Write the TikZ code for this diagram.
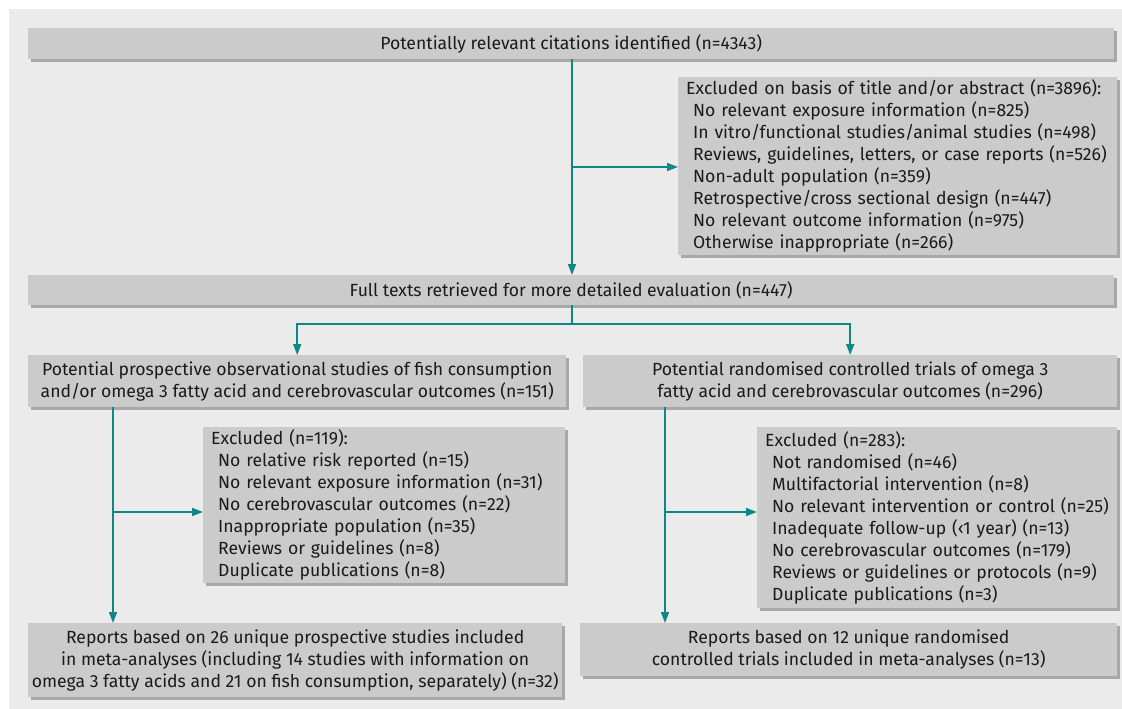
\documentclass[tikz,border=0pt]{standalone}
\usepackage{fontspec}
\setmainfont{Fira Sans}
\usetikzlibrary{arrows.meta,shadows}
\definecolor{bgc}{HTML}{EBEBEB}
\definecolor{boxc}{HTML}{CBCBCB}
\definecolor{shc}{HTML}{A8A8A8}
\definecolor{teal2}{RGB}{16,134,134}
\definecolor{txt}{HTML}{1A1A1A}
\tikzset{
  box/.style={fill=boxc, anchor=north west, inner sep=0pt, text=txt,
    general shadow={fill=shc, shadow xshift=3pt, shadow yshift=-3pt},
    font=\fontsize{17.6}{22}\selectfont},
  cbox/.style={box, align=center},
  lbox/.style={box, align=left},
  conn/.style={draw=teal2, line width=1.8pt},
  arr/.style={conn, -{Triangle[length=11pt,width=8pt]}}
}
\begin{document}
\begin{tikzpicture}[x=1pt,y=-1pt]
\useasboundingbox (0,0) rectangle (1122,709);
\fill[bgc] (9,9) rectangle (1122,709);

\node[cbox, minimum width=1086pt, minimum height=31pt] (top) at (28,28)
  {Potentially relevant citations identified (n=4343)};

\node[lbox, minimum width=439pt, minimum height=178pt, text width=423pt] (ex1) at (678,77)
  {Excluded on basis of title and/or abstract (n=3896):\\
   \hspace*{7pt}No relevant exposure information (n=825)\\
   \hspace*{7pt}In vitro/functional studies/animal studies (n=498)\\
   \hspace*{7pt}Reviews, guidelines, letters, or case reports (n=526)\\
   \hspace*{7pt}Non-adult population (n=359)\\
   \hspace*{7pt}Retrospective/cross sectional design (n=447)\\
   \hspace*{7pt}No relevant outcome information (n=975)\\
   \hspace*{7pt}Otherwise inappropriate (n=266)};

\node[cbox, minimum width=1086pt, minimum height=30pt] (full) at (28,275)
  {Full texts retrieved for more detailed evaluation (n=447)};

\node[cbox, minimum width=538pt, minimum height=52pt] (midL) at (28,355)
  {Potential prospective observational studies of fish consumption\\
   and/or omega 3 fatty acid and cerebrovascular outcomes (n=151)};

\node[cbox, minimum width=534pt, minimum height=52pt] (midR) at (583,355)
  {Potential randomised controlled trials of omega 3\\
   fatty acid and cerebrovascular outcomes (n=296)};

\node[lbox, minimum width=362pt, minimum height=156pt, text width=346pt] (exL) at (203,427)
  {Excluded (n=119):\\
   \hspace*{7pt}No relative risk reported (n=15)\\
   \hspace*{7pt}No relevant exposure information (n=31)\\
   \hspace*{7pt}No cerebrovascular outcomes (n=22)\\
   \hspace*{7pt}Inappropriate population (n=35)\\
   \hspace*{7pt}Reviews or guidelines (n=8)\\
   \hspace*{7pt}Duplicate publications (n=8)};

\node[lbox, minimum width=360pt, minimum height=181pt, text width=344pt] (exR) at (757,427)
  {Excluded (n=283):\\
   \hspace*{7pt}Not randomised (n=46)\\
   \hspace*{7pt}Multifactorial intervention (n=8)\\
   \hspace*{7pt}No relevant intervention or control (n=25)\\
   \hspace*{7pt}Inadequate follow-up (‹1 year) (n=13)\\
   \hspace*{7pt}No cerebrovascular outcomes (n=179)\\
   \hspace*{7pt}Reviews or guidelines or protocols (n=9)\\
   \hspace*{7pt}Duplicate publications (n=3)};

\node[cbox, minimum width=534pt, minimum height=74pt] (botL) at (28,623)
  {Reports based on 26 unique prospective studies included\\
   in meta-analyses (including 14 studies with information on\\
   omega 3 fatty acids and 21 on fish consumption, separately) (n=32)};

\node[cbox, minimum width=537pt, minimum height=53pt] (botR) at (580,623)
  {Reports based on 12 unique randomised\\
   controlled trials included in meta-analyses (n=13)};

% connectors
\coordinate (b1) at (572,167);
\draw[arr] (top.south -| b1) -- (full.north -| b1);
\draw[arr] (b1) -- (b1 -| ex1.west);

\coordinate (j) at (572,324);
\draw[conn] (full.south -| j) -- (j);
\draw[arr] (j) -| (midL.north);
\draw[arr] (j) -| (midR.north);

\coordinate (lv) at (113,512);
\draw[arr] (midL.south -| lv) -- (botL.north -| lv);
\draw[arr] (lv) -- (lv -| exL.west);

\coordinate (rv) at (665,512);
\draw[arr] (midR.south -| rv) -- (botR.north -| rv);
\draw[arr] (rv) -- (rv -| exR.west);
\end{tikzpicture}
\end{document}
